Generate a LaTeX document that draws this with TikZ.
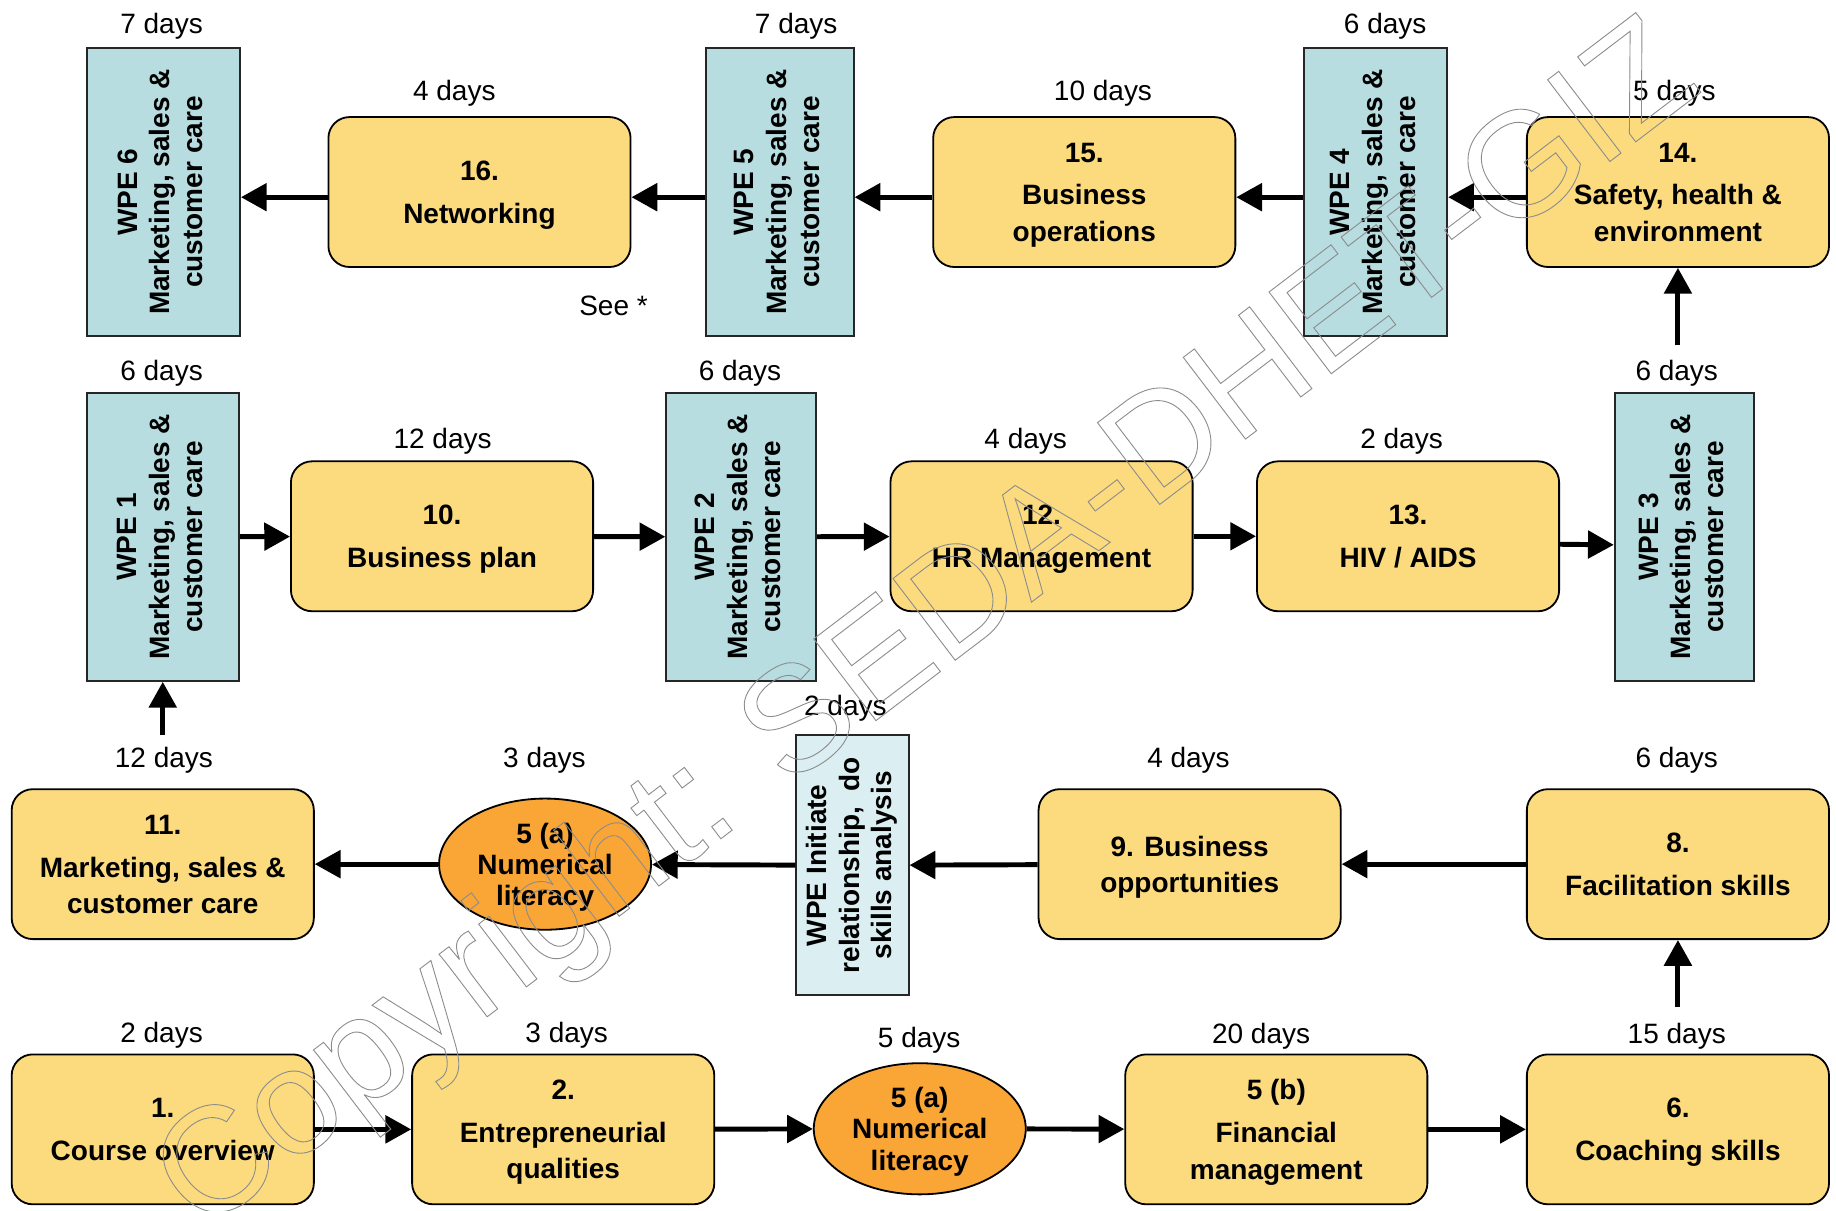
\documentclass[tikz,border=0pt]{standalone}
\usepackage{fontspec}
\setmainfont{Liberation Sans}
\usepackage{graphicx}
\usepackage{xcolor}
\usetikzlibrary{arrows.meta}
\usetikzlibrary{shapes.geometric}

\definecolor{boxyellow}{RGB}{252,219,127}
\definecolor{wpeblue}{RGB}{183,221,225}
\definecolor{wpelight}{RGB}{219,238,241}
\definecolor{litorange}{RGB}{249,166,55}

\newcommand{\vtext}[1]{\rotatebox{90}{\begin{tabular}{@{}c@{}}#1\end{tabular}}}
\newcommand{\outlined}[1]{\special{pdf:literal direct 0.55 w 1 Tr}#1\special{pdf:literal direct 0 Tr}}

\begin{document}
\begin{tikzpicture}[x=0.025cm,y=-0.025cm,
  topic/.style={draw=black,line width=1.1pt,fill=boxyellow,rounded corners=0.45cm,minimum width=6.45cm,minimum height=3.2cm,align=center,text depth=0pt,font=\fontsize{17}{22}\selectfont\bfseries},
  wpe/.style={draw=black!85,line width=1.1pt,fill=wpeblue,minimum width=3.2cm,minimum height=6.15cm,inner sep=0pt,font=\fontsize{17}{20}\selectfont\bfseries},
  lit/.style={draw=black,line width=1.1pt,fill=litorange,ellipse,minimum width=4.525cm,minimum height=2.8cm,inner sep=0pt,align=center,text depth=0pt,font=\fontsize{17}{19}\selectfont\bfseries},
  days/.style={inner sep=0pt,font=\fontsize{17}{20}\selectfont},
  flow/.style={line width=3pt,-{Triangle[length=0.55cm,width=0.58cm]}}]
  \useasboundingbox (0,0) rectangle (1568,1034);

  % row 1 (bottom)
  \node[topic] (n1) at (139,964.5) {1.\\[4pt]Course overview};
  \node[topic] (n2) at (481,964.5) {2.\\[4pt]Entrepreneurial\\qualities};
  \node[lit] (lit1) at (785.5,964) {5 (a)\\Numerical\\literacy};
  \node[topic] (n5b) at (1090,964.5) {5 (b)\\[4pt]Financial\\management};
  \node[topic] (n6) at (1433,964.5) {6.\\[4pt]Coaching skills};
  \node[days] (d1) at (138,884) {2 days};
  \node[days] (d2) at (484,884) {3 days};
  \node[days] (d5a) at (785,888) {5 days};
  \node[days] (d5b) at (1077,885) {20 days};
  \node[days] (d6) at (1432,885) {15 days};

  % row 2
  \node[topic] (n11) at (139,738) {11.\\[4pt]Marketing, sales \&\\customer care};
  \node[lit] (lit2) at (465.5,738) {5 (a)\\Numerical\\literacy};
  \node[wpe,fill=wpelight,minimum width=2.4cm,minimum height=5.55cm] (wpei) at (728,739)
    {\vtext{WPE Initiate\\relationship,~~do\\skills analysis}};
  \node[topic] (n9) at (1016,738) {9. Business\\opportunities};
  \node[topic] (n8) at (1433,738) {8.\\[4pt]Facilitation skills};
  \node[days] (d11) at (140,649) {12 days};
  \node[days] (d5c) at (465,649) {3 days};
  \node[days] (dwi) at (722,605) {2 days};
  \node[days] (d9) at (1015,649) {4 days};
  \node[days] (d8) at (1432,649) {6 days};

  % row 3
  \node[wpe,minimum width=3.25cm] (wpe1) at (139,458.5) {\vtext{WPE 1\\Marketing, sales \&\\customer care}};
  \node[topic] (n10) at (377.5,458) {10.\\[4pt]Business plan};
  \node[wpe] (wpe2) at (633,458.5) {\vtext{WPE 2\\Marketing, sales \&\\customer care}};
  \node[topic] (n12) at (889.5,458) {12.\\[4pt]HR Management};
  \node[topic] (n13) at (1202.5,458) {13.\\[4pt]HIV / AIDS};
  \node[wpe,minimum width=2.975cm] (wpe3) at (1438.5,458.5) {\vtext{WPE 3\\Marketing, sales \&\\customer care}};
  \node[days] (dw1) at (138,319) {6 days};
  \node[days] (d10) at (378,377) {12 days};
  \node[days] (dw2) at (632,319) {6 days};
  \node[days] (d12) at (876,377) {4 days};
  \node[days] (d13) at (1197,377) {2 days};
  \node[days] (dw3) at (1432,319) {6 days};

  % row 4 (top)
  \node[wpe,minimum width=3.275cm] (wpe6) at (139.5,164) {\vtext{WPE 6\\Marketing, sales \&\\customer care}};
  \node[topic] (n16) at (409.5,164) {16.\\[4pt]Networking};
  \node[wpe,minimum width=3.15cm] (wpe5) at (666,164) {\vtext{WPE 5\\Marketing, sales \&\\customer care}};
  \node[topic] (n15) at (926,164) {15.\\[4pt]Business\\operations};
  \node[wpe,minimum width=3.05cm] (wpe4) at (1175,164) {\vtext{WPE 4\\Marketing, sales \&\\customer care}};
  \node[topic] (n14) at (1433,164) {14.\\[4pt]Safety, health \&\\environment};
  \node[days] (dw6) at (138,22) {7 days};
  \node[days] (d16) at (388,80) {4 days};
  \node[days] (dw5) at (680,22) {7 days};
  \node[days] (d15) at (942,80) {10 days};
  \node[days] (dw4) at (1183,22) {6 days};
  \node[days] (d14) at (1430,80) {5 days};
  \node[days] (see) at (524,261) {See *};

  \coordinate (up8) at (1433,860);
  \coordinate (upw1) at (139,628);
  \coordinate (up14) at (1433,295);

  \draw[flow] (n1) -- (n2);
  \draw[flow] (n2) -- (lit1);
  \draw[flow] (lit1) -- (n5b);
  \draw[flow] (n5b) -- (n6);
  \draw[flow] (up8) -- (n8);
  \draw[flow] (n8) -- (n9);
  \draw[flow] (n9) -- (wpei);
  \draw[flow] (wpei) -- (lit2);
  \draw[flow] (lit2) -- (n11);
  \draw[flow] (upw1) -- (wpe1);
  \draw[flow] (wpe1) -- (n10);
  \draw[flow] (n10) -- (wpe2);
  \draw[flow] (wpe2) -- (n12);
  \draw[flow] (n12) -- (n13);
  \draw[flow] ([yshift=-0.17cm]n13.east) -- ([yshift=-0.17cm]wpe3.west);
  \draw[flow] (up14) -- (n14);
  \draw[flow] ([yshift=-0.11cm]n14.west) -- ([yshift=-0.11cm]wpe4.east);
  \draw[flow] ([yshift=-0.11cm]wpe4.west) -- ([yshift=-0.11cm]n15.east);
  \draw[flow] ([yshift=-0.11cm]n15.west) -- ([yshift=-0.11cm]wpe5.east);
  \draw[flow] ([yshift=-0.11cm]wpe5.west) -- ([yshift=-0.11cm]n16.east);
  \draw[flow] ([yshift=-0.11cm]n16.west) -- ([yshift=-0.11cm]wpe6.east);

  \node[rotate=37.3,text=black!45,inner sep=0pt,font=\fontsize{90.7}{91}\selectfont] (mark) at (794,539) {\outlined{Copyright: SEDA-DHET-GIZ}};
\end{tikzpicture}
\end{document}
